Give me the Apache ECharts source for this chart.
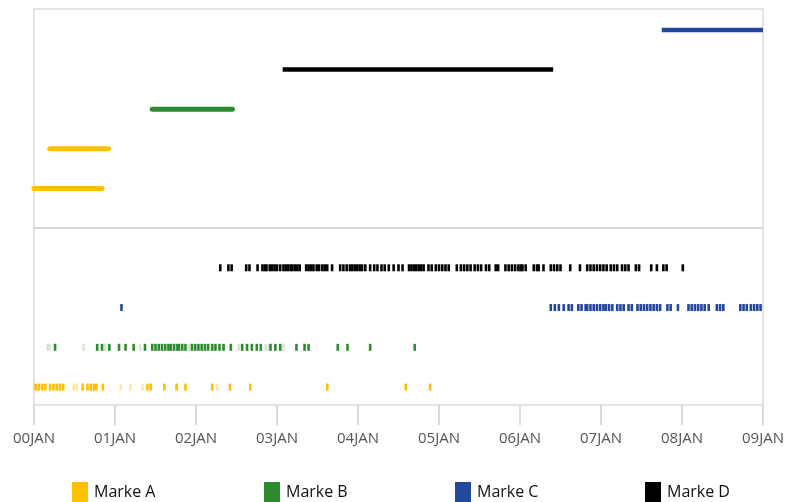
<!DOCTYPE html>
<html>
<head>
<meta charset="utf-8">
<script src="https://cdn.jsdelivr.net/npm/echarts@6/dist/echarts.min.js"></script>
<style>
html,body{margin:0;padding:0;background:#fff;}
#chart{width:788px;height:502px;}
</style>
</head>
<body>
<div id="chart"></div>
<script>
// ---- data ----
const dayLabels = ['00JAN','01JAN','02JAN','03JAN','04JAN','05JAN','06JAN','07JAN','08JAN','09JAN'];
const markeNames = ['Marke A','Marke B','Marke C','Marke D'];
const markeColors = ['#FFC000','#2E8B30','#22479C','#000000'];
const markeFaint = ['#FDE8A8','#D5E6D2','#C9D3EA','#BBBBBB'];

// top panel: spans (days)
const spanMarke = ['Marke A','Marke A','Marke B','Marke D','Marke C'];
const spanStart = [0.00, 0.195, 1.46, 3.07, 7.75];
const spanEnd   = [0.84, 0.92, 2.45, 6.41, 9.00];
const spanRow   = [1, 2, 3, 4, 5];

// bottom panel: events (days)
const eventsA = [0.02,0.06,0.10,0.14,0.20,0.24,0.28,0.32,0.36,0.60,0.66,0.70,0.74,0.77,0.85,1.40,1.44,1.61,1.76,1.87,2.20,2.42,2.67,3.62,4.59,4.89];
const eventsAFaint = [0.49,0.53,1.07,1.19,1.34,2.26];
const eventsB = [0.26,0.78,0.84,0.93,1.05,1.13,1.23,1.37,1.46,1.50,1.54,1.58,1.62,1.66,1.69,1.73,1.77,1.79,1.83,1.87,1.95,1.99,2.03,2.07,2.11,2.15,2.20,2.24,2.29,2.34,2.43,2.57,2.63,2.69,2.75,2.80,2.92,2.98,3.04,3.24,3.34,3.39,3.75,3.87,4.15,4.70];
const eventsBFaint = [0.17,0.19,0.61,0.88,1.31,1.91,2.53,2.86,2.90,3.08];
const eventsC = [1.08,6.38,6.43,6.48,6.54,6.60,6.64,6.72,6.76,6.81,6.83,6.87,6.91,6.95,6.99,7.03,7.06,7.10,7.14,7.20,7.24,7.28,7.34,7.38,7.45,7.49,7.53,7.57,7.61,7.65,7.69,7.73,7.82,7.86,7.95,8.08,8.12,8.16,8.20,8.24,8.28,8.33,8.43,8.47,8.51,8.72,8.76,8.80,8.85,8.89,8.93,8.97];
const eventsD = [2.30,2.40,2.44,2.62,2.66,2.76,2.82,2.85,2.87,2.91,2.94,2.97,3.00,3.04,3.08,3.11,3.14,3.17,3.19,3.22,3.25,3.28,3.36,3.39,3.42,3.45,3.49,3.52,3.56,3.59,3.62,3.68,3.78,3.82,3.86,3.90,3.93,3.96,3.99,4.02,4.05,4.09,4.15,4.20,4.24,4.29,4.33,4.38,4.44,4.50,4.55,4.63,4.66,4.69,4.72,4.75,4.78,4.81,4.87,4.91,4.96,5.00,5.04,5.08,5.12,5.22,5.27,5.31,5.35,5.39,5.44,5.48,5.52,5.58,5.62,5.70,5.73,5.82,5.86,5.90,5.94,5.98,6.01,6.03,6.07,6.17,6.21,6.23,6.29,6.38,6.42,6.46,6.50,6.62,6.74,6.83,6.87,6.91,6.95,6.99,7.03,7.07,7.12,7.16,7.20,7.26,7.30,7.34,7.43,7.47,7.62,7.69,7.77,7.81,8.01];
const eventRow = {'Marke A':1,'Marke B':2,'Marke C':3,'Marke D':4};

// ---- build ----
const colorOf = n => markeColors[markeNames.indexOf(n)];
const faintOf = n => markeFaint[markeNames.indexOf(n)];
const series = [];

function eventSeries(name, arr, color, z) {
  return {
    name: name, type: 'scatter', xAxisIndex: 1, yAxisIndex: 1,
    symbol: 'rect', symbolSize: [2.6, 7], silent: true, z: z,
    itemStyle: {color: color, opacity: 1},
    data: arr.map(d => [d, eventRow[name]])
  };
}
series.push(eventSeries('Marke A', eventsA, colorOf('Marke A'), 3));
series.push(eventSeries('Marke B', eventsB, colorOf('Marke B'), 3));
series.push(eventSeries('Marke C', eventsC, colorOf('Marke C'), 3));
series.push(eventSeries('Marke D', eventsD, colorOf('Marke D'), 3));
series.push(eventSeries('Marke A', eventsAFaint, faintOf('Marke A'), 2));
series.push(eventSeries('Marke B', eventsBFaint, faintOf('Marke B'), 2));

spanStart.forEach((s, i) => {
  const n = spanMarke[i];
  const round = (n === 'Marke A' || n === 'Marke B');
  series.push({
    name: n, type: 'line', xAxisIndex: 0, yAxisIndex: 0,
    symbol: 'none', silent: true, clip: true,
    lineStyle: {color: colorOf(n), width: round ? 5 : 4.5, cap: round ? 'round' : 'butt'},
    itemStyle: {color: colorOf(n)},
    data: [[s, spanRow[i]], [spanEnd[i], spanRow[i]]]
  });
});

const legendLeft = [72, 264, 455, 645];
const legends = markeNames.map((n, i) => ({
  left: legendLeft[i], top: 482, orient: 'horizontal', padding: 0,
  icon: 'rect', itemWidth: 16, itemHeight: 21, itemGap: 0,
  selectedMode: false,
  textStyle: {fontFamily: 'Open Sans', fontSize: 16, color: '#111', padding: [2,0,0,1]},
  data: [{name: n, itemStyle: {color: markeColors[i], opacity: 1}}]
}));

const chart = echarts.init(document.getElementById('chart'), null, {renderer: 'canvas'});
chart.setOption({
  animation: false,
  backgroundColor: '#fff',
  legend: legends,
  grid: [
    {left: 34, right: 25, top: 9, height: 219, show: true, borderColor: '#c8c8c8', borderWidth: 1, backgroundColor: 'transparent'},
    {left: 34, right: 25, top: 228, height: 177, show: true, borderColor: '#c8c8c8', borderWidth: 1, backgroundColor: 'transparent'}
  ],
  xAxis: [
    {type: 'value', gridIndex: 0, min: 0, max: 9, interval: 1, show: false},
    {type: 'value', gridIndex: 1, min: 0, max: 9, interval: 1,
     axisLine: {show: false},
     axisTick: {show: true, length: 20, lineStyle: {color: '#d0d0d0', width: 1.5}},
     splitLine: {show: false},
     axisLabel: {margin: 26, fontFamily: 'Open Sans', fontSize: 15, color: '#555',
       formatter: v => dayLabels[Math.round(v)]}}
  ],
  yAxis: [
    {type: 'value', gridIndex: 0, min: 0, max: 5.53, show: false},
    {type: 'value', gridIndex: 1, min: 0.55, max: 5.0, show: false}
  ],
  series: series
});
</script>
</body>
</html>
